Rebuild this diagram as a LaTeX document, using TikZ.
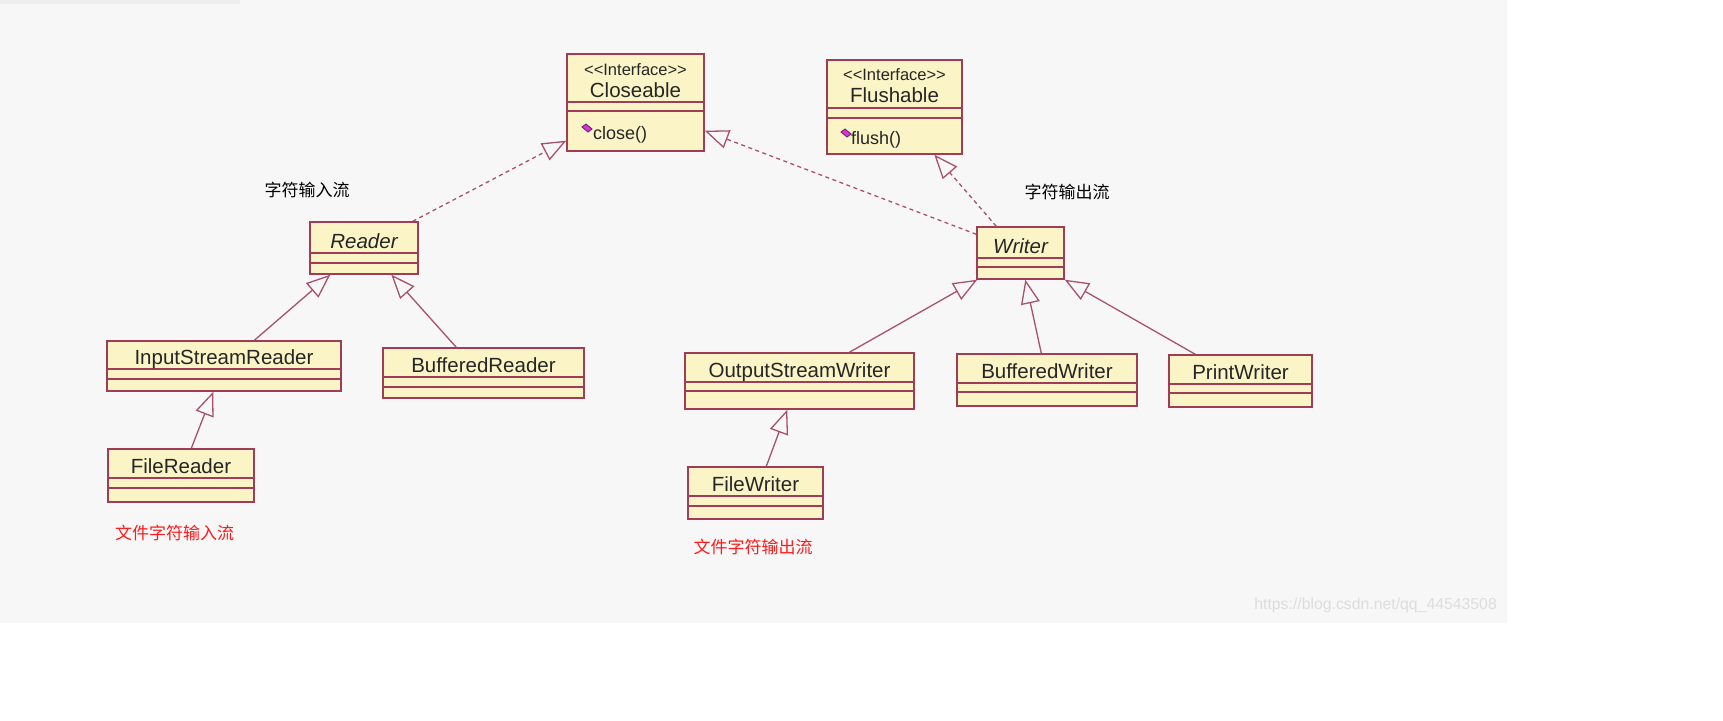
\documentclass[tikz,border=0pt]{standalone}
\usepackage{fontspec}
\setmainfont{Liberation Sans}
\newfontfamily\cjk{Noto Sans CJK SC}
\usetikzlibrary{arrows.meta,calc}
\definecolor{bg}{HTML}{F7F7F8}
\definecolor{topstrip}{HTML}{EEEEEE}
\definecolor{boxfill}{HTML}{FBF4C6}
\definecolor{boxline}{HTML}{A03C55}
\definecolor{conn}{HTML}{A8506E}
\definecolor{txt}{HTML}{262626}
\definecolor{wm}{HTML}{DDDDDD}
\definecolor{redtxt}{HTML}{FF1A1A}
\definecolor{iconfill}{HTML}{E030D8}
\definecolor{iconline}{HTML}{602060}
\tikzset{
  cls/.style={draw=boxline, fill=boxfill, line width=1.4pt, rectangle, inner sep=0pt},
  sepline/.style={draw=boxline, line width=1.3pt},
  clsname/.style={inner sep=0pt, text=txt, font=\fontsize{20.5}{24}\selectfont, anchor=base},
  stereo/.style={inner sep=0pt, text=txt, font=\fontsize{16.5}{20}\selectfont, anchor=base},
  method/.style={inner sep=0pt, text=txt, font=\fontsize{18}{22}\selectfont, anchor=base west},
  cnlabel/.style={inner sep=0pt, text=black, font=\cjk\fontsize{17}{20}\selectfont},
  cnred/.style={inner sep=0pt, text=redtxt, font=\cjk\fontsize{17}{20}\selectfont},
  wmark/.style={inner sep=0pt, text=wm, font=\fontsize{15.8}{18}\selectfont},
  gen/.style={draw=conn, line width=1.3pt, -{Triangle[open, length=24pt, width=19pt, line width=1.3pt]}},
  real/.style={gen, dash pattern=on 4pt off 3.5pt},
  icon/.style={fill=iconfill, draw=iconline, line width=0.8pt}
}
\newcommand\umlclass[8]{%
  \pgfmathsetmacro\bw{#4-#2}\pgfmathsetmacro\bh{#5-#3}%
  \pgfmathsetmacro\cx{(#2+#4)/2}\pgfmathsetmacro\cy{(#3+#5)/2}%
  \pgfmathsetmacro\ty{#6-5}%
  \node[cls, minimum width=\bw pt, minimum height=\bh pt] (#1) at (\cx,\cy) {};
  \draw[sepline] (#2,#6) -- (#4,#6);
  \draw[sepline] (#2,#7) -- (#4,#7);
  \node[clsname] (#1-name) at (\cx,\ty) {#8};
}
\newcommand\stereotxt{<\kern0pt<Interface>\kern0pt>}
\begin{document}
\begin{tikzpicture}[x=1pt, y=-1pt]
  % page and background
  \fill[white] (0,0) rectangle (1723,720);
  \useasboundingbox (0,0) rectangle (1723,720);
  \fill[bg] (0,0) rectangle (1507,623);
  \fill[topstrip] (0,0) rectangle (240,4);

  % interfaces
  \umlclass{closeable}{567}{54}{704}{151}{102}{111}{}
  \node[stereo] (closeable-st) at (635.5,75) {\stereotxt};
  \node[clsname] (closeable-nm) at (635.5,97) {Closeable};
  \filldraw[icon] (582,127) -- (586,124) -- (592,129) -- (588,132) -- cycle;
  \node[method] (closeable-m) at (593,139) {close()};

  \umlclass{flushable}{827}{60}{962}{154}{108}{118}{}
  \node[stereo] (flushable-st) at (894.5,80) {\stereotxt};
  \node[clsname] (flushable-nm) at (894.5,102) {Flushable};
  \filldraw[icon] (841,132) -- (845,129) -- (851,134) -- (847,137) -- cycle;
  \node[method] (flushable-m) at (851,144) {flush()};

  % abstract classes
  \umlclass{reader}{310}{222}{418}{274}{253}{263}{\itshape Reader}
  \umlclass{writer}{977}{227}{1064}{279}{258}{267}{\itshape Writer}

  % concrete classes
  \umlclass{isr}{107}{341}{341}{391}{369}{379}{InputStreamReader}
  \umlclass{br}{383}{348}{584}{398}{377}{387}{BufferedReader}
  \umlclass{fr}{108}{449}{254}{502}{478}{488}{FileReader}
  \umlclass{osw}{685}{353}{914}{409}{382}{391}{OutputStreamWriter}
  \umlclass{bw}{957}{354}{1137}{406}{383}{392}{BufferedWriter}
  \umlclass{pw}{1169}{355}{1312}{407}{384}{393}{PrintWriter}
  \umlclass{fw}{688}{467}{823}{519}{496}{506}{FileWriter}

  % realizations (dashed)
  \draw[real] ($(reader.north east)+(-6,0)$) -- ($(closeable.south west)+(0,-11)$);
  \draw[real] ($(writer.north west)+(0,8)$) -- ($(closeable.south east)+(0,-21)$);
  \draw[real] ($(writer.north west)+(20,0)$) -- ($(flushable.south west)+(108,0)$);

  % generalizations
  \draw[gen] ($(isr.north west)+(148,0)$) -- ($(reader.south west)+(21,0)$);
  \draw[gen] ($(br.north west)+(74,0)$) -- ($(reader.south west)+(82,0)$);
  \draw[gen] ($(fr.north west)+(84,0)$) -- ($(isr.south west)+(107,0)$);
  \draw[gen] ($(osw.north west)+(165,0)$) -- ($(writer.south west)+(1,0)$);
  \draw[gen] ($(bw.north west)+(85,0)$) -- ($(writer.south west)+(49,0)$);
  \draw[gen] ($(pw.north west)+(27,0)$) -- (writer.south east);
  \draw[gen] ($(fw.north west)+(79,0)$) -- ($(osw.south west)+(103,0)$);

  % labels
  \node[cnlabel] (lin) at (307,190) {字符输入流};
  \node[cnlabel] (lout) at (1067,192) {字符输出流};
  \node[cnred] (lfr) at (174.5,533) {文件字符输入流};
  \node[cnred] (lfw) at (753,547) {文件字符输出流};
  \node[wmark, anchor=east] (wmk) at (1497,605) {https://blog.csdn.net/qq\_44543508};
\end{tikzpicture}
\end{document}
